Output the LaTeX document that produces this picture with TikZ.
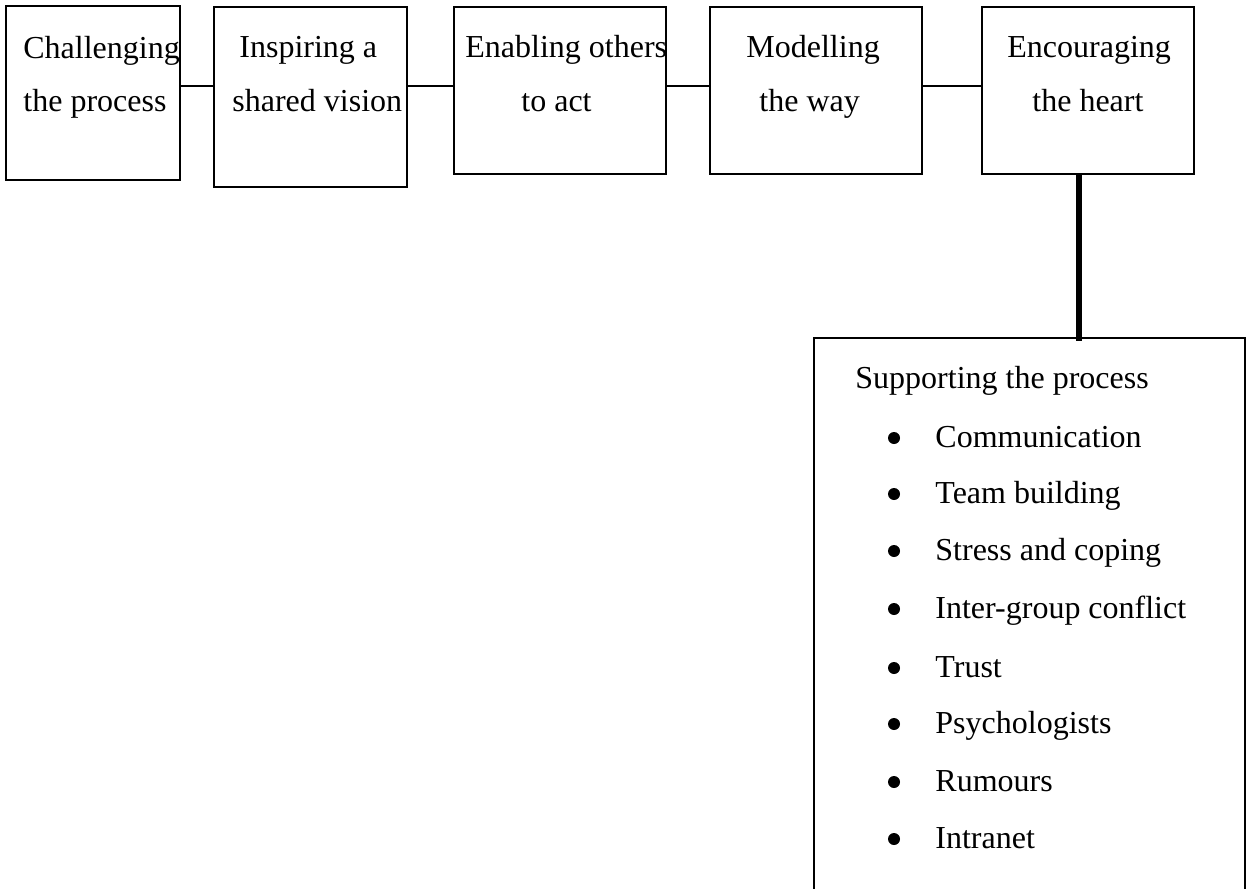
\documentclass[tikz,border=0pt]{standalone}
\usepackage{fontspec}
\setmainfont{Liberation Serif}
\begin{document}
\begin{tikzpicture}[x=0.5pt,y=-0.5pt,
  box/.style={draw,line width=1pt,inner sep=0pt},
  txt/.style={anchor=base west,inner sep=0pt,font=\fontsize{16pt}{19pt}\selectfont},
  link/.style={line width=1pt},
  thick link/.style={line width=3pt},
  dot/.style={circle,fill,inner sep=0pt,minimum size=6pt}]
\useasboundingbox (0,0) rectangle (1246,888);
% boxes
\node[box,minimum width=87pt,minimum height=87pt] (b1) at (93,93) {};
\node[box,minimum width=96.5pt,minimum height=90pt] (b2) at (310.5,97) {};
\node[box,minimum width=106pt,minimum height=83.5pt] (b3) at (560,90.5) {};
\node[box,minimum width=106pt,minimum height=83.5pt] (b4) at (816,90.5) {};
\node[box,minimum width=106pt,minimum height=83.5pt] (b5) at (1088,90.5) {};
\node[box,minimum width=215.5pt,minimum height=300pt] (sup) at (1029.5,638) {};
% texts
\node[txt] (t1a) at (23,59) {Challenging};
\node[txt] (t1b) at (23,112) {the process};
\node[txt] (t2a) at (239,58) {Inspiring a};
\node[txt] (t2b) at (232,112) {shared vision};
\node[txt] (t3a) at (465,58) {Enabling others};
\node[txt] (t3b) at (521,112) {to act};
\node[txt] (t4a) at (746,58) {Modelling};
\node[txt] (t4b) at (759,112) {the way};
\node[txt] (t5a) at (1007,58) {Encouraging};
\node[txt] (t5b) at (1032,112) {the heart};
% connectors
\coordinate (cy) at (0,86);
\draw[link] (b1.east |- cy) -- (b2.west |- cy);
\draw[link] (b2.east |- cy) -- (b3.west |- cy);
\draw[link] (b3.east |- cy) -- (b4.west |- cy);
\draw[link] (b4.east |- cy) -- (b5.west |- cy);
\coordinate (lx) at (1079,0);
\draw[thick link] (b5.south -| lx) -- ([yshift=-2pt]sup.north -| lx);
% list
\node[txt] (head) at (855,388) {Supporting the process};
\foreach \i/\y/\t in {1/447/Communication,2/503/Team building,3/560/Stress and coping,4/618/Inter-group conflict,5/677/Trust,6/733/Psychologists,7/791/Rumours,8/848/Intranet}{
  \node[dot] (d\i) at (894,\y-9) {};
  \node[txt] (i\i) at (935,\y) {\t};
}
\end{tikzpicture}
\end{document}
